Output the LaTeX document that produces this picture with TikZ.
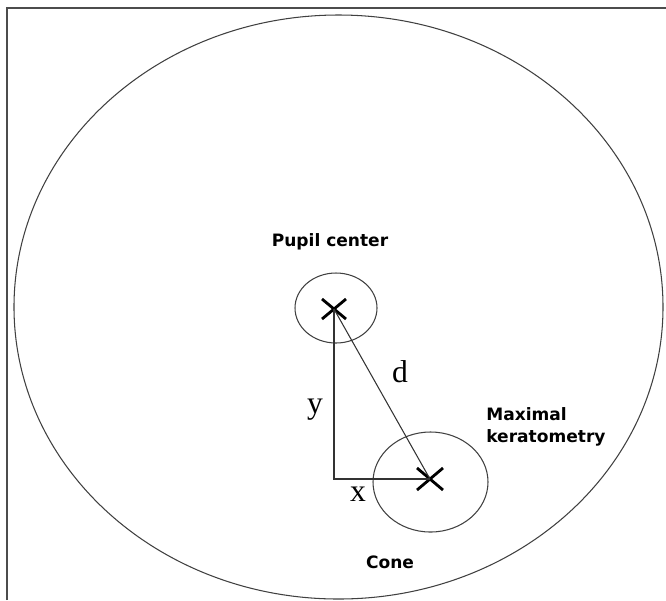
\documentclass[tikz,border=0pt]{standalone}
\usepackage{fontspec}
\setmainfont{Liberation Serif}
\newfontfamily\labelfont{DejaVu Sans}
\usetikzlibrary{calc}
\begin{document}
\begin{tikzpicture}[
    x=0.02cm, y=-0.02cm,
    every node/.style={inner sep=0pt},
    outline/.style={draw=black!75, line width=0.6pt},
    frameline/.style={draw=black!70, line width=1.1pt},
    cross/.style={line width=1.6pt},
    leg/.style={draw=black!80, line width=0.6pt},
    tag/.style={font=\labelfont\bfseries\fontsize{9.7}{12.4}\selectfont, align=left},
    axis/.style={font=\fontsize{18}{18}\selectfont}
]
\useasboundingbox (0,0) rectangle (666,600);

% ramecek
\draw[frameline] (7,600) -- (7,8) -- (666,8);

% oko a kruhy
\draw[outline] (338.5,307) ellipse (324.5 and 292);
\draw[outline] (336,308) ellipse (41 and 35);
\draw[outline] (430.5,482) ellipse (57.5 and 50);

% body
\coordinate (P) at (334,309);
\coordinate (C) at (430,479);
\coordinate (Q) at (334,479);
\draw[cross] ($(P)+(-12,-10)$) -- ($(P)+(12,10)$) ($(P)+(-12,10)$) -- ($(P)+(12,-10)$);
\draw[cross] ($(C)+(-13,-11)$) -- ($(C)+(13,11)$) ($(C)+(-13,11)$) -- ($(C)+(13,-11)$);

% usecky
\draw[leg] (P) -- (Q) -- (C);
\draw[leg] (P) -- (C);

% popisky
\node[tag] (pupil) at (330,242) {Pupil center};
\node[tag, anchor=west] (kmax) at (486,427) {Maximal\\keratometry};
\node[tag] (cone) at (390,562) {Cone};
\node[axis] (d) at (400,372) {d};
\node[axis] (y) at (315,410) {y};
\node[axis] (x) at (358,494) {x};

\end{tikzpicture}
\end{document}
